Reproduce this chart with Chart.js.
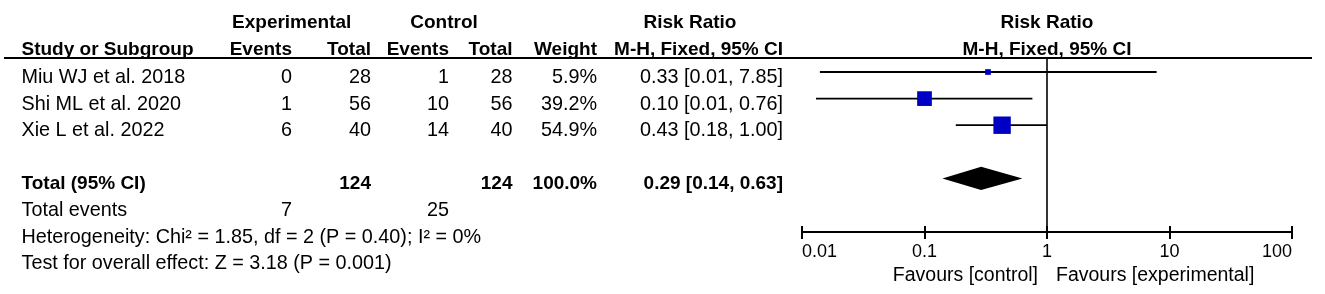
<!DOCTYPE html>
<html>
<head>
<meta charset="utf-8">
<script src="https://cdn.jsdelivr.net/npm/chart.js@4.4.1/dist/chart.umd.min.js"></script>
<style>
  html, body { margin: 0; padding: 0; background: #fff; }
  canvas { display: block; }
</style>
</head>
<body>
<canvas id="forestChart" width="1325" height="294"></canvas>
<script>
const studies = ["Miu WJ et al. 2018", "Shi ML et al. 2020", "Xie L et al. 2022"];
const expEvents = [0, 1, 6];
const expTotal = [28, 56, 40];
const ctlEvents = [1, 10, 14];
const ctlTotal = [28, 56, 40];
const weights = [5.9, 39.2, 54.9];
const riskRatio = [0.33, 0.10, 0.43];
const ciLow = [0.014, 0.013, 0.18];
const ciHigh = [7.85, 0.76, 1.00];
const pooled = [0.29, 0.14, 0.63]; // estimate, lower, upper
const tickValues = [0.01, 0.1, 1, 10, 100];
const tickLabels = ["0.01", "0.1", "1", "10", "100"];
const heterogeneity = "Heterogeneity: Chi\u00B2 = 1.85, df = 2 (P = 0.40); I\u00B2 = 0%";
const overallEffect = "Test for overall effect: Z = 3.18 (P = 0.001)";

const FONT = "'Liberation Sans', Arial, sans-serif";
const totalRow = 4;
const diamondHalf = 0.44;
const sum = a => a.reduce((s, v) => s + v, 0);
const f2 = v => v.toFixed(2);

// table text + reference lines, placed with the chart's own scales
const forestTable = {
  id: "forestTable",
  afterDraw(chart) {
    const { ctx, chartArea, scales: { x, y } } = chart;
    const base = r => y.getPixelForValue(r) + 11;
    const txt = (s, px, row, align, bold) => {
      ctx.font = (bold ? "bold 19px " : "19.8px ") + FONT;
      ctx.textAlign = align;
      ctx.fillText(s, px, base(row));
    };
    ctx.save();
    ctx.fillStyle = "#000";
    ctx.textBaseline = "alphabetic";

    // headers
    const hA = -2.05, hB = -1.07;
    txt("Experimental", 291.7, hA, "center", true);
    txt("Control", 444, hA, "center", true);
    txt("Risk Ratio", 690, hA, "center", true);
    txt("Risk Ratio", x.getPixelForValue(1), hA, "center", true);
    txt("Study or Subgroup", 21.5, hB, "left", true);
    txt("Events", 292, hB, "right", true);
    txt("Total", 371, hB, "right", true);
    txt("Events", 449, hB, "right", true);
    txt("Total", 512.5, hB, "right", true);
    txt("Weight", 597, hB, "right", true);
    txt("M-H, Fixed, 95% CI", 783, hB, "right", true);
    txt("M-H, Fixed, 95% CI", x.getPixelForValue(1), hB, "center", true);

    // study rows
    studies.forEach((name, i) => {
      txt(name, 21.5, i, "left");
      txt(String(expEvents[i]), 292, i, "right");
      txt(String(expTotal[i]), 371, i, "right");
      txt(String(ctlEvents[i]), 449, i, "right");
      txt(String(ctlTotal[i]), 512.5, i, "right");
      txt(weights[i].toFixed(1) + "%", 597, i, "right");
      txt(`${f2(riskRatio[i])} [${f2(ciLow[i])}, ${f2(ciHigh[i])}]`, 783, i, "right");
    });

    // totals
    txt("Total (95% CI)", 21.5, totalRow, "left", true);
    txt(String(sum(expTotal)), 371, totalRow, "right", true);
    txt(String(sum(ctlTotal)), 512.5, totalRow, "right", true);
    txt(sum(weights).toFixed(1) + "%", 597, totalRow, "right", true);
    txt(`${f2(pooled[0])} [${f2(pooled[1])}, ${f2(pooled[2])}]`, 783, totalRow, "right", true);
    txt("Total events", 21.5, totalRow + 1, "left");
    txt(String(sum(expEvents)), 292, totalRow + 1, "right");
    txt(String(sum(ctlEvents)), 449, totalRow + 1, "right");
    txt(heterogeneity, 21.5, totalRow + 2, "left");
    txt(overallEffect, 21.5, totalRow + 3, "left");

    // favours labels
    const x1 = x.getPixelForValue(1);
    ctx.font = "19.5px " + FONT;
    ctx.textAlign = "right";
    ctx.fillText("Favours [control]", x1 - 9, 281);
    ctx.textAlign = "left";
    ctx.fillText("Favours [experimental]", x1 + 9, 281);

    // header rule and line of no effect
    ctx.strokeStyle = "#000";
    const ruleY = y.getPixelForValue(-0.53);
    ctx.lineWidth = 2;
    ctx.beginPath();
    ctx.moveTo(4, ruleY);
    ctx.lineTo(1312, ruleY);
    ctx.stroke();
    ctx.lineWidth = 1.6;
    ctx.beginPath();
    ctx.moveTo(x1, ruleY);
    ctx.lineTo(x1, chartArea.bottom);
    ctx.stroke();

    // upper half of the axis ticks
    ctx.lineWidth = 2;
    tickValues.forEach(v => {
      const px = Math.round(x.getPixelForValue(v));
      ctx.beginPath();
      ctx.moveTo(px, chartArea.bottom - 6);
      ctx.lineTo(px, chartArea.bottom);
      ctx.stroke();
    });
    ctx.restore();
  }
};

const boxes = {
  label: "Study",
  data: studies.map((_, i) => ({ x: riskRatio[i], y: i })),
  showLine: false,
  pointStyle: "rect",
  pointRadius: weights.map(w => 2.35 * Math.sqrt(w) / Math.SQRT2),
  backgroundColor: "#0000C4",
  borderColor: "#0000C4",
  borderWidth: 0
};

const ciLines = studies.map((_, i) => ({
  label: "CI " + studies[i],
  data: [{ x: ciLow[i], y: i }, { x: ciHigh[i], y: i }],
  borderColor: "#000",
  borderWidth: 1.8,
  pointRadius: 0,
  fill: false
}));

// pooled diamond: upper edge filled down to the lower edge
const diamond = [-1, 1].map(s => ({
  label: "Total",
  data: [
    { x: pooled[1], y: totalRow },
    { x: pooled[0], y: totalRow + s * diamondHalf },
    { x: pooled[2], y: totalRow }
  ],
  borderWidth: 0,
  borderColor: "#000",
  backgroundColor: "#000",
  pointRadius: 0,
  tension: 0,
  fill: s < 0 ? "+1" : false
}));

new Chart(document.getElementById("forestChart"), {
  type: "line",
  data: { datasets: [boxes, ...ciLines, ...diamond] },
  plugins: [forestTable],
  options: {
    responsive: false,
    animation: false,
    layout: { autoPadding: false, padding: { left: 802, right: 33, top: 0, bottom: 0 } },
    plugins: { legend: { display: false }, tooltip: { enabled: false } },
    scales: {
      x: {
        type: "logarithmic",
        min: 0.01,
        max: 100,
        afterBuildTicks: s => { s.ticks = tickValues.map(v => ({ value: v })); },
        afterFit: s => { s.height = 62; },
        ticks: {
          align: "inner",
          autoSkip: false,
          maxRotation: 0,
          padding: 2,
          color: "#000",
          font: { family: FONT, size: 18 },
          callback: (v, i) => tickLabels[i]
        },
        grid: { drawOnChartArea: false, color: "#000", lineWidth: 2, tickLength: 7 },
        border: { color: "#000", width: 2 }
      },
      y: {
        type: "linear",
        display: false,
        reverse: true,
        min: -2.707,
        max: 6.015,
        ticks: { display: false },
        grid: { display: false },
        border: { display: false }
      }
    }
  }
});
</script>
</body>
</html>
